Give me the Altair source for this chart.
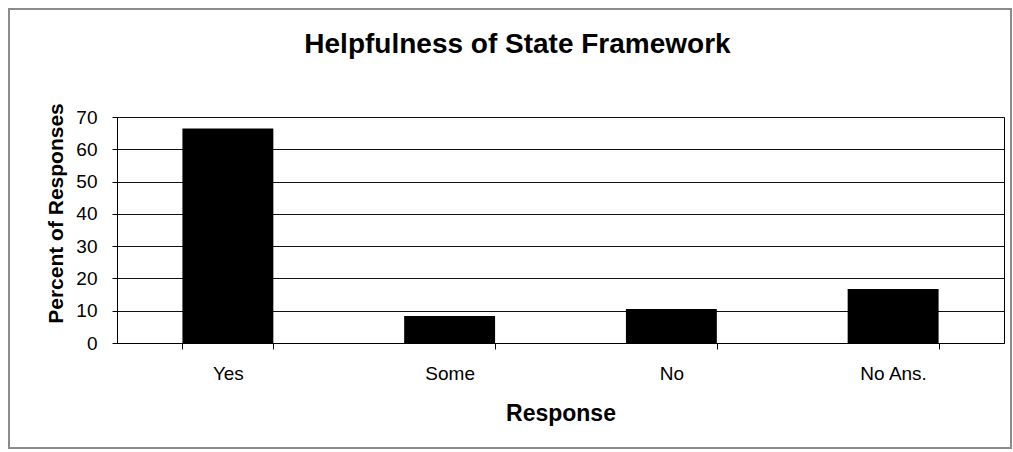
import altair as alt
import pandas as pd

categories = ["Yes", "Some", "No", "No Ans."]
values = [66.4, 8.4, 10.5, 16.7]
chart_title = "Helpfulness of State Framework"

df = pd.DataFrame({"Response": categories, "Percent": values})
title_df = pd.DataFrame({"t": [chart_title]})

FONT = "Liberation Sans"

bars = alt.Chart(df).mark_bar(color="#000000").encode(
    x=alt.X(
        "Response:N",
        sort=categories,
        scale=alt.Scale(paddingInner=0.59, paddingOuter=0.295),
        axis=alt.Axis(
            title="Response",
            labelAngle=0,
            labelFont=FONT,
            labelFontSize=19,
            labelColor="#000000",
            labelPadding=15,
            tickBand="extent",
            tickSize=6,
            tickColor="#000000",
            domainColor="#000000",
            titleFont=FONT,
            titleFontSize=23,
            titleFontWeight="bold",
            titleColor="#000000",
            titlePadding=19,
            grid=False,
        ),
    ),
    y=alt.Y(
        "Percent:Q",
        scale=alt.Scale(domain=[0, 70], nice=False),
        axis=alt.Axis(
            title="Percent of Responses",
            values=[0, 10, 20, 30, 40, 50, 60, 70],
            labelFont=FONT,
            labelFontSize=19,
            labelColor="#000000",
            labelPadding=15,
            tickSize=5,
            tickColor="#000000",
            domainColor="#000000",
            grid=True,
            gridColor="#111111",
            gridWidth=1,
            gridOpacity=1,
            titleFont=FONT,
            titleFontSize=21,
            titleFontWeight="bold",
            titleColor="#000000",
            titlePadding=9,
            titleY=96,
        ),
    ),
)

frame = alt.Chart(df).mark_rect(fill=None, stroke="#8a8a8a", strokeWidth=1.5).encode(
    x=alt.value(-108), x2=alt.value(894), y=alt.value(-108), y2=alt.value(331)
)

title_mark = alt.Chart(title_df).mark_text(
    font=FONT, fontSize=28, fontWeight="bold", color="#000000",
    align="center", baseline="alphabetic",
).encode(
    text="t:N", x=alt.value(400.5), y=alt.value(-64)
)

chart = alt.layer(frame, bars, title_mark).properties(
    width=887,
    height=226,
    autosize=alt.AutoSizeParams(type="none"),
    padding={"left": 117, "top": 117, "right": 9, "bottom": 109},
    background="#ffffff",
).configure_view(stroke="#000000", strokeWidth=1)

chart.save("out.html", embed_options={"renderer": "svg", "actions": False})
